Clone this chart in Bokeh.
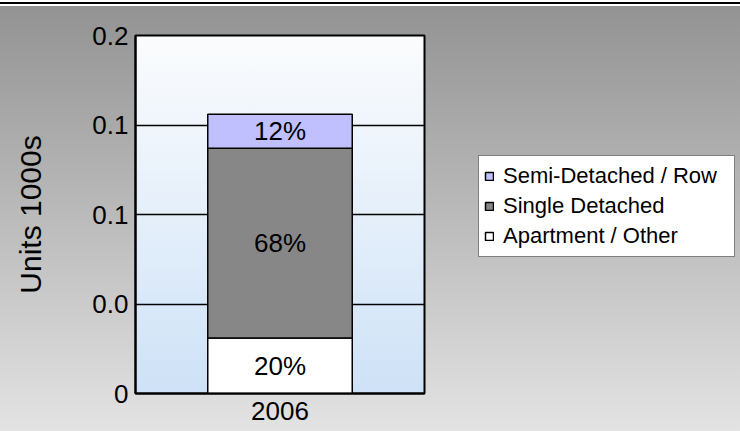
from bokeh.plotting import figure
from bokeh.layouts import row
from bokeh.models import (Range1d, FactorRange, FixedTicker, Legend, LegendItem,
                          ColumnDataSource)
from bokeh.embed import file_html
from bokeh.resources import INLINE
from bokeh.core.properties import value

# ---- data ----
years = ["2006"]
series_keys = ["apartment", "single", "semi"]
series_names = ["Apartment / Other", "Single Detached", "Semi-Detached / Row"]
apartment = [0.031]
single = [0.106]
semi = [0.019]
series_colors = ["#ffffff", "#878787", "#c0c0ff"]
y_ticks = [0, 0.05, 0.1, 0.15, 0.2]
y_tick_labels = ["0", "0.0", "0.1", "0.1", "0.2"]
y_label = "Units 1000s"

FONT = "Liberation Sans"

source = ColumnDataSource(dict(year=years, apartment=apartment, single=single, semi=semi))

H = 431
W1, W2 = 430, 310
FL, FT, FW, FH = 135, 35, 289, 358

p = figure(x_range=FactorRange(factors=years), y_range=Range1d(0, 0.2),
           width=W1, height=H, output_backend="svg", toolbar_location=None,
           min_border_left=FL, min_border_right=W1 - FL - FW, min_border_top=FT,
           min_border_bottom=H - FT - FH)

p.background_fill_color = None
p.border_fill_color = None
p.styles = {
    "background": f"linear-gradient(to bottom, #fbfcfd, #cee2f7) {FL}px {FT}px / {FW}px {FH}px no-repeat"
}
p.outline_line_color = "black"
p.outline_line_width = 2

# grid
p.xgrid.visible = False
p.ygrid.ticker = FixedTicker(ticks=y_ticks[1:-1])
p.ygrid.grid_line_color = "black"
p.ygrid.grid_line_width = 1.5

# bars
bar_kw = dict(x="year", width=0.5, source=source, fill_color=series_colors,
              line_color="black", line_width=1.5)
renderers = p.vbar_stack(series_keys, **bar_kw)

# percent labels
vals = [apartment[0], single[0], semi[0]]
total = sum(vals)
mids, texts, bottom = [], [], 0.0
for v in vals:
    mids.append(bottom + v / 2)
    texts.append(f"{round(v / total * 100):.0f}%")
    bottom += v
lab_src = ColumnDataSource(dict(x=[years[0]] * len(vals), y=mids, text=texts))
p.text(x="x", y="y", text="text", source=lab_src, text_align="center",
       text_baseline="middle", text_font=value(FONT), text_font_size="26px",
       text_color="black")

# axes
p.yaxis.ticker = FixedTicker(ticks=y_ticks)
p.yaxis.major_label_overrides = dict(zip(y_ticks, y_tick_labels))
for ax in (p.xaxis[0], p.yaxis[0]):
    ax.major_label_text_font = FONT
    ax.major_label_text_font_size = "26px"
    ax.major_label_text_color = "black"
    ax.major_tick_line_color = None
    ax.minor_tick_line_color = None
    ax.major_tick_out = 0
    ax.major_tick_in = 0
    ax.axis_line_color = "black"
    ax.axis_line_width = 2
p.yaxis.major_label_standoff = 7
p.xaxis.major_label_standoff = 8
p.yaxis.axis_label = y_label
p.yaxis.axis_label_text_font = FONT
p.yaxis.axis_label_text_font_size = "30px"
p.yaxis.axis_label_text_font_style = "normal"
p.yaxis.axis_label_text_color = "black"
p.yaxis.axis_label_standoff = 42

# legend panel: a second figure holding hidden copies of the series for the legend
p2 = figure(x_range=FactorRange(factors=years), y_range=Range1d(0, 0.2),
            width=W2, height=H, output_backend="svg", toolbar_location=None,
            x_axis_location=None, y_axis_location=None, min_border=0)
p2.grid.visible = False
p2.outline_line_color = None
p2.background_fill_color = None
p2.border_fill_color = None
leg_renderers = p2.vbar_stack(series_keys, **bar_kw)
for r in leg_renderers:
    r.visible = False

items = [LegendItem(label=series_names[i], renderers=[leg_renderers[i]])
         for i in reversed(range(len(series_keys)))]
legend = Legend(items=items, location=(48, 136), orientation="vertical",
                click_policy="none",
                label_text_font=FONT, label_text_font_size="22px",
                label_text_color="black", glyph_width=10, glyph_height=10,
                label_standoff=9, label_width=226, label_height=30, spacing=0,
                padding=5, margin=0, border_line_color="black",
                border_line_width=1.5, background_fill_color="white",
                background_fill_alpha=1)
p2.add_layout(legend, "center")

layout = row(p, p2, spacing=0)
layout.styles = {
    "background": "linear-gradient(to bottom, #ffffff 0px, #ffffff 2px, #000000 2px, #000000 4px, "
                  "#ffffff 4px, #ffffff 6px, #939393 6px, #e3e3e3 100%)"
}

open("out.html", "w").write(file_html(layout, INLINE))
